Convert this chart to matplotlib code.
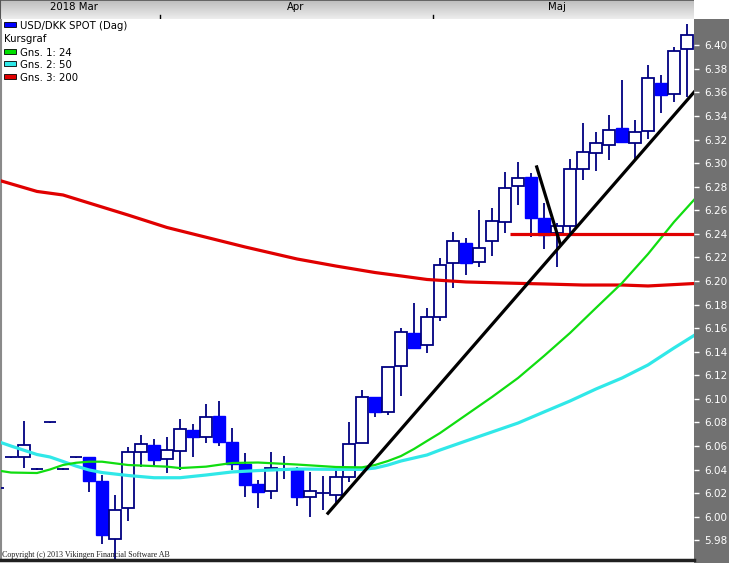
import matplotlib
matplotlib.use("Agg")
import matplotlib.pyplot as plt
from matplotlib.patches import Rectangle
from matplotlib.lines import Line2D
import numpy as np

W, H, DPI = 729, 563, 100

# ---------------- data ----------------
opens = [6.0244, 6.0506, 6.0506, 6.0405, 6.0803, 6.0405, 6.0506, 6.0506, 6.0302, 5.9811,
         6.0074, 6.0549, 6.0608, 6.0489, 6.0557, 6.0735, 6.0676, 6.0854, 6.0633, 6.0447,
         6.0277, 6.0218, 6.0405, 6.0405, 6.0167, 6.0201, 6.0184, 6.0337, 6.0625, 6.1015,
         6.0888, 6.1278, 6.1558, 6.1456, 6.1694, 6.2152, 6.2321, 6.2160, 6.2338, 6.2499,
         6.2805, 6.2880, 6.2533, 6.2406, 6.2465, 6.2949, 6.3084, 6.3152, 6.3296, 6.3169,
         6.3271, 6.3677, 6.3584, 6.3966]
highs = [6.0250, 6.0510, 6.0812, 6.0410, 6.0808, 6.0410, 6.0510, 6.0506, 6.0354, 6.0184,
         6.0591, 6.0693, 6.0659, 6.0676, 6.0829, 6.0786, 6.0956, 6.0981, 6.0752, 6.0540,
         6.0311, 6.0549, 6.0515, 6.0422, 6.0379, 6.0345, 6.0413, 6.0803, 6.1074, 6.1015,
         6.1270, 6.1601, 6.1813, 6.1771, 6.2194, 6.2414, 6.2363, 6.2601, 6.2618, 6.2923,
         6.3008, 6.2914, 6.2660, 6.2491, 6.3033, 6.3339, 6.3262, 6.3406, 6.3703, 6.3364,
         6.3830, 6.3745, 6.3983, 6.4178]
lows = [6.0240, 6.0500, 6.0413, 6.0400, 6.0798, 6.0400, 6.0500, 6.0210, 5.9769, 5.9620,
        5.9964, 6.0422, 6.0430, 6.0371, 6.0396, 6.0506, 6.0625, 6.0600, 6.0396, 6.0167,
        6.0074, 6.0150, 6.0320, 6.0091, 5.9998, 6.0057, 6.0116, 6.0294, 6.0625, 6.0846,
        6.0862, 6.1024, 6.1431, 6.1389, 6.1660, 6.1939, 6.2050, 6.2118, 6.2211, 6.2406,
        6.2643, 6.2372, 6.2270, 6.2118, 6.2406, 6.2855, 6.2931, 6.3025, 6.3169, 6.3025,
        6.3203, 6.3423, 6.3516, 6.3559]
closes = [6.0244, 6.0506, 6.0608, 6.0405, 6.0803, 6.0405, 6.0506, 6.0302, 5.9845, 6.0057,
          6.0549, 6.0617, 6.0481, 6.0566, 6.0744, 6.0676, 6.0846, 6.0633, 6.0447, 6.0269,
          6.0210, 6.0413, 6.0405, 6.0167, 6.0218, 6.0201, 6.0337, 6.0617, 6.1015, 6.0888,
          6.1270, 6.1567, 6.1431, 6.1694, 6.2135, 6.2338, 6.2152, 6.2279, 6.2508, 6.2788,
          6.2872, 6.2533, 6.2389, 6.2465, 6.2949, 6.3093, 6.3169, 6.3279, 6.3177, 6.3262,
          6.3720, 6.3576, 6.3949, 6.4085]

ma24_x = [0, 1, 3, 4, 5, 6, 7, 8, 10, 13, 14, 16, 18, 20, 23, 26, 28, 29, 30, 31, 32, 33,
          34, 36, 38, 40, 42, 44, 46, 48, 50, 52, 53.6]
ma24_y = [6.0392, 6.0375, 6.0371, 6.0401, 6.0439, 6.0458, 6.0467, 6.0467, 6.0439, 6.0425,
          6.0413, 6.0425, 6.0456, 6.0460, 6.0443, 6.0422, 6.0419, 6.0439, 6.0473, 6.0515,
          6.0575, 6.0643, 6.0710, 6.0863, 6.1016, 6.1177, 6.1364, 6.1559, 6.1772, 6.1983,
          6.2229, 6.2501, 6.2696]

ma50_x = [0, 1, 3, 4, 5, 6, 7, 8, 10, 12, 14, 16, 18, 20, 23, 26, 28, 29, 30, 31, 33, 34,
          36, 38, 40, 42, 44, 46, 48, 50, 52, 53.6]
ma50_y = [6.0638, 6.0600, 6.0528, 6.0507, 6.0469, 6.0430, 6.0397, 6.0375, 6.0350, 6.0331,
          6.0331, 6.0354, 6.0380, 6.0392, 6.0405, 6.0402, 6.0402, 6.0413, 6.0439, 6.0473,
          6.0524, 6.0566, 6.0643, 6.0719, 6.0795, 6.0889, 6.0982, 6.1084, 6.1177, 6.1288,
          6.1432, 6.1542]

ma200_x = [0, 3, 5, 8, 10, 13, 15, 19, 23, 26, 29, 31, 33, 36, 39, 42, 45, 48, 50, 53.6]
ma200_y = [6.2857, 6.2760, 6.2730, 6.2628, 6.2560, 6.2454, 6.2399, 6.2289, 6.2187, 6.2127,
           6.2072, 6.2043, 6.2013, 6.1992, 6.1983, 6.1975, 6.1966, 6.1966, 6.1958, 6.1979]

hline_level = 6.24
hline_start = 39.4

trend1_x = [25.38, 53.6]
trend1_y = [6.0030, 6.3610]
trend2_x = [41.44, 43.23]
trend2_y = [6.2968, 6.2321]

ytick_vals = [5.98, 6.00, 6.02, 6.04, 6.06, 6.08, 6.10, 6.12, 6.14, 6.16, 6.18, 6.20,
              6.22, 6.24, 6.26, 6.28, 6.30, 6.32, 6.34, 6.36, 6.38, 6.40]
month_labels = ["2018 Mar", "Apr", "Maj"]
month_label_pos = [5.85, 22.9, 43.0]
month_tick_pos = [12.46, 33.46]

legend_labels = ["USD/DKK SPOT (Dag)", "Kursgraf", "Gns. 1: 24", "Gns. 2: 50", "Gns. 3: 200"]
legend_colors = ["#0000ff", None, "#00e000", "#30e8e8", "#e00000"]

# ---------------- figure ----------------
fig = plt.figure(figsize=(W / DPI, H / DPI), dpi=DPI, facecolor="white")


def frect(x0, y0, x1, y1):
    """pixel box (top-left origin) -> figure fraction rect"""
    return [x0 / W, 1 - y1 / H, (x1 - x0) / W, (y1 - y0) / H]


# grey right axis panel
fig.add_artist(Rectangle((694 / W, 0), 35 / W, 1 - 19 / H, transform=fig.transFigure,
                         facecolor="#717171", edgecolor="none", zorder=-2))

XMIN, XMAX = 0.2308, 53.538
YMIN, YMAX = 5.9633, 6.4223

ax = fig.add_axes(frect(1, 19, 694, 560))
ax.set_facecolor("white")
ax.set_xlim(XMIN, XMAX)
ax.set_ylim(YMIN, YMAX)

navy = "#000080"
blue = "#0000ff"
xs = np.arange(len(opens))
bw = 0.86

# wicks
ax.vlines(xs, lows, highs, color=navy, lw=1.3, zorder=2)
for i in xs:
    o, c = opens[i], closes[i]
    if abs(o - c) < 1e-9:
        ax.hlines(o, i - bw / 2, i + bw / 2, color=navy, lw=1.3, zorder=3)
    elif c > o:
        ax.add_patch(Rectangle((i - bw / 2, o), bw, c - o, facecolor="white",
                               edgecolor=navy, lw=1.3, zorder=3))
    else:
        ax.add_patch(Rectangle((i - bw / 2, c), bw, o - c, facecolor=blue,
                               edgecolor=blue, lw=1.0, zorder=3))

# moving averages
ax.plot(ma200_x, ma200_y, color="#e00000", lw=2.3, zorder=4, solid_capstyle="butt")
ax.plot(ma50_x, ma50_y, color="#30e8e8", lw=2.3, zorder=4, solid_capstyle="butt")
ax.plot(ma24_x, ma24_y, color="#10dd10", lw=1.6, zorder=5, solid_capstyle="butt")

# horizontal level and trend lines
ax.hlines(hline_level, hline_start, XMAX, color="#e00000", lw=2.3, zorder=6)
ax.plot(trend1_x, trend1_y, color="black", lw=2.3, zorder=7)
ax.plot(trend2_x, trend2_y, color="black", lw=2.3, zorder=7)

# axes styling
for s in ["top", "right"]:
    ax.spines[s].set_visible(False)
ax.spines["left"].set_color("#8a8a8a")
ax.spines["left"].set_linewidth(1.5)
ax.spines["bottom"].set_color("#202020")
ax.spines["bottom"].set_linewidth(2.5)
ax.set_xticks([])
ax.yaxis.tick_right()
ax.set_yticks(ytick_vals)
ax.set_yticklabels([f"{v:.2f}" for v in ytick_vals])
ax.tick_params(axis="y", colors="white", length=3.6, width=1, pad=4, labelsize=7.5,
               direction="out", right=True, left=False)

# header strip
hax = fig.add_axes(frect(0, 0, 694, 19))
grad = np.linspace(0, 1, 64).reshape(-1, 1)
hax.imshow(grad, cmap=matplotlib.colors.LinearSegmentedColormap.from_list(
    "g", ["#bdbdbd", "#ededed"]), aspect="auto",
    extent=[XMIN - 1 / 13, XMAX, 0, 1], origin="upper")
hax.set_xlim(XMIN - 1 / 13, XMAX)
hax.set_ylim(0, 1)
hax.set_xticks([])
hax.set_yticks([])
for s in hax.spines.values():
    s.set_visible(False)
hax.plot([XMIN - 1 / 13, XMAX], [0.98, 0.98], color="#555555", lw=1.2)
hax.plot([XMIN - 1 / 13, XMIN - 1 / 13], [0, 1], color="#555555", lw=1.5)
for lab, pos in zip(month_labels, month_label_pos):
    hax.text(pos, 0.62, lab, ha="center", va="center", fontsize=7.3,
             family="DejaVu Sans", color="black")
for pos in month_tick_pos:
    hax.plot([pos, pos], [0.0, 0.22], color="black", lw=1)

# legend
leg_base = [29, 41.7, 56, 68.3, 81]
for lab, col, yb in zip(legend_labels, legend_colors, leg_base):
    if col is None:
        fig.text(4 / W, 1 - yb / H, lab, ha="left", va="baseline", fontsize=7.3,
                 family="DejaVu Sans", color="black")
    else:
        fig.add_artist(Rectangle((4 / W, 1 - (yb - 2) / H), 12 / W, 5 / H,
                                 transform=fig.transFigure, facecolor=col,
                                 edgecolor="black", lw=0.6, zorder=10))
        fig.text(20 / W, 1 - yb / H, lab, ha="left", va="baseline", fontsize=7.3,
                 family="DejaVu Sans", color="black")

# copyright
fig.text(2 / W, 1 - 557 / H, "Copyright (c) 2013 Vikingen Financial Software AB",
         ha="left", va="baseline", fontsize=5.8, family="Liberation Serif",
         color="#202020")

fig.savefig("out.png", dpi=DPI, facecolor="white")
